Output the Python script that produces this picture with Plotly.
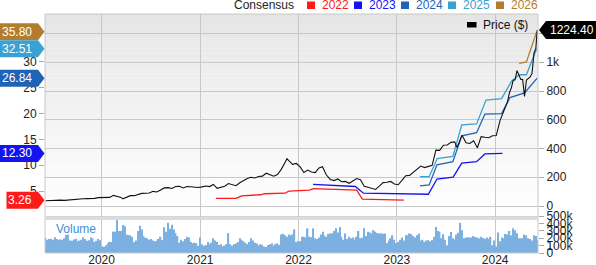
import plotly.graph_objects as go
import pandas as pd

# ---------------- data ----------------
price_dates = [
    "2019-06-07", "2019-06-21", "2019-07-05", "2019-07-19", "2019-08-02", "2019-08-16", "2019-08-30",
    "2019-09-13", "2019-09-27", "2019-10-11", "2019-10-25", "2019-11-08", "2019-11-22", "2019-12-06",
    "2019-12-20", "2020-01-03", "2020-01-17", "2020-01-31", "2020-02-14", "2020-02-28", "2020-03-13",
    "2020-03-20", "2020-04-03", "2020-04-17", "2020-05-01", "2020-05-15", "2020-05-29", "2020-06-12",
    "2020-06-26", "2020-07-10", "2020-07-24", "2020-08-07", "2020-08-21", "2020-09-04", "2020-09-18",
    "2020-10-02", "2020-10-16", "2020-10-30", "2020-11-13", "2020-11-27", "2020-12-11", "2020-12-24",
    "2021-01-08", "2021-01-22", "2021-02-05", "2021-02-19", "2021-03-05", "2021-03-19", "2021-04-02",
    "2021-04-16", "2021-04-30", "2021-05-14", "2021-05-28", "2021-06-11", "2021-06-25", "2021-07-09",
    "2021-07-23", "2021-08-06", "2021-08-20", "2021-09-03", "2021-09-17", "2021-10-01", "2021-10-15",
    "2021-10-29", "2021-11-12", "2021-11-19", "2021-11-26", "2021-12-10", "2021-12-24", "2022-01-07",
    "2022-01-21", "2022-02-04", "2022-02-18", "2022-03-04", "2022-03-18", "2022-03-31", "2022-04-14",
    "2022-04-29", "2022-05-13", "2022-05-27", "2022-06-10", "2022-06-24", "2022-07-08", "2022-07-22",
    "2022-08-05", "2022-08-19", "2022-09-02", "2022-09-16", "2022-09-30", "2022-10-14", "2022-10-28",
    "2022-11-11", "2022-11-25", "2022-12-09", "2022-12-23", "2023-01-06", "2023-01-20", "2023-02-03",
    "2023-02-17", "2023-03-03", "2023-03-17", "2023-03-31", "2023-04-14", "2023-04-28", "2023-05-12",
    "2023-05-26", "2023-06-09", "2023-06-23", "2023-07-07", "2023-07-21", "2023-08-04", "2023-08-11",
    "2023-08-18", "2023-08-31", "2023-09-15", "2023-09-29", "2023-10-13", "2023-10-27", "2023-11-10",
    "2023-11-24", "2023-12-08", "2023-12-22", "2024-01-05", "2024-01-19", "2024-02-02", "2024-02-16",
    "2024-02-23", "2024-03-01", "2024-03-08", "2024-03-15", "2024-03-22", "2024-04-05", "2024-04-12",
    "2024-04-19", "2024-04-26", "2024-05-03", "2024-05-10", "2024-05-17", "2024-05-24", "2024-05-31",
    "2024-06-05",
]
price_values = [
    36.5, 38.5, 40.5, 42.0, 41.0, 39.0, 42.0,
    45.0, 43.0, 47.0, 50.0, 51.5, 52.0, 53.0,
    58.5, 59.5, 62.0, 60.0, 74.0, 67.5, 60.0,
    50.0, 62.0, 72.0, 72.0, 80.0, 88.0, 89.0,
    90.0, 102.0, 98.0, 112.0, 126.0, 128.0, 122.0,
    136.0, 137.0, 126.0, 136.0, 134.0, 130.0, 129.0,
    133.0, 139.0, 135.0, 150.0, 123.0, 128.0, 138.0,
    156.0, 150.0, 141.0, 162.0, 178.0, 192.0, 200.0,
    195.0, 205.0, 208.0, 228.0, 220.0, 207.0, 219.0,
    255.0, 303.0, 329.0, 315.0, 290.0, 296.0, 272.0,
    233.0, 250.0, 236.0, 232.0, 265.0, 273.0, 217.0,
    185.0, 177.0, 188.0, 169.0, 171.0, 158.0, 173.0,
    191.0, 183.0, 137.0, 131.0, 121.0, 115.0, 138.0,
    163.0, 165.0, 171.0, 153.0, 148.0, 178.0, 211.0,
    213.0, 234.0, 257.0, 278.0, 267.0, 277.0, 283.0,
    389.0, 387.0, 423.0, 425.0, 443.0, 446.0, 408.0,
    432.0, 493.0, 440.0, 435.0, 454.0, 405.0, 483.0,
    478.0, 475.0, 489.0, 490.0, 594.0, 661.0, 726.0,
    788.0, 822.0, 875.0, 878.0, 942.0, 880.0, 881.0,
    762.0, 877.0, 887.0, 898.0, 924.0, 1064.0, 1096.0,
    1224.4,
]

eps_2022_dates = ["2021-03-01", "2021-05-14", "2021-06-04", "2021-08-13", "2021-08-27", "2021-11-12",
                  "2021-11-26", "2022-02-11", "2022-02-25", "2022-05-20", "2022-06-03", "2022-08-05",
                  "2022-08-26", "2022-11-11", "2022-11-25", "2023-01-27"]
eps_2022 = [3.6, 3.6, 4.1, 4.3, 4.5, 4.6, 5.0, 5.2, 5.5, 5.4, 5.3, 5.2, 3.45, 3.35, 3.3, 3.26]

eps_2023_dates = ["2022-02-24", "2022-05-20", "2022-07-31", "2022-08-30", "2023-04-28", "2023-05-30",
                  "2023-07-29", "2023-08-30", "2023-10-24", "2023-11-24", "2024-01-28"]
eps_2023 = [6.3, 6.1, 5.9, 4.6, 4.4, 7.35, 7.7, 10.4, 10.7, 12.2, 12.30]

eps_2024_dates = ["2023-03-28", "2023-05-01", "2023-05-30", "2023-07-28", "2023-08-30", "2023-10-24",
                  "2023-11-24", "2024-01-25", "2024-02-25", "2024-04-19", "2024-06-05"]
eps_2024 = [6.0, 6.2, 10.1, 10.7, 15.7, 16.3, 19.9, 20.0, 23.1, 24.0, 26.84]

eps_2025_dates = ["2023-03-28", "2023-05-01", "2023-05-31", "2023-07-28", "2023-08-30", "2023-10-24",
                  "2023-11-28", "2024-01-25", "2024-03-01", "2024-03-30", "2024-04-26", "2024-06-03"]
eps_2025 = [7.8, 7.8, 11.3, 11.7, 17.8, 18.0, 22.6, 22.9, 26.2, 27.5, 27.5, 32.51]

eps_2026_dates = ["2024-03-30", "2024-04-26", "2024-06-03"]
eps_2026 = [29.7, 30.0, 35.80]

# weekly volume (thousands)
vol_2019 = [210, 180, 190, 195, 180, 215, 190, 175, 185, 180, 200, 245, 250, 170, 165,
            185, 195, 160, 170, 180, 215, 190, 165, 175, 210, 200, 150, 165, 190, 175]
vol_2020 = [90, 85, 105, 130, 150, 150, 290, 290, 450, 300, 300, 380, 365, 250, 245, 240, 220,
            150, 170, 300, 370, 320, 230, 210, 200, 180, 190, 170, 160, 165, 190, 220, 175, 350,
            290, 410, 330, 385, 320, 270, 230, 140, 180, 160, 190, 220, 210, 150, 130, 140, 135, 100]
vol_2021 = [210, 120, 100, 110, 150, 120, 140, 200, 170, 150, 110, 120, 90, 100, 120, 270, 120,
            100, 120, 130, 150, 200, 180, 160, 140, 120, 150, 200, 170, 140, 130, 100, 120, 110,
            90, 80, 110, 120, 130, 100, 120, 130, 110, 250, 260, 240, 220, 250, 240, 250, 320, 150, 160]
vol_2022 = [160, 220, 220, 210, 335, 220, 215, 335, 200, 190, 210, 250, 290, 240, 220, 260, 265,
            270, 300, 335, 280, 355, 220, 180, 265, 190, 220, 200, 210, 185, 220, 300, 200, 210,
            335, 230, 290, 280, 265, 310, 290, 270, 265, 270, 260, 265, 137, 170, 200, 240, 180, 137]
vol_2023 = [150, 180, 210, 170, 240, 240, 265, 260, 230, 210, 240, 265, 165, 180, 150, 170, 175,
            160, 175, 220, 355, 300, 290, 200, 255, 180, 105, 230, 285, 200, 185, 250, 275, 410,
            310, 200, 210, 215, 210, 210, 230, 215, 210, 200, 220, 205, 195, 210, 190, 220, 105, 170]
vol_2024 = [90, 280, 160, 210, 200, 260, 250, 300, 240, 335, 310, 270, 200, 200, 200, 250, 240,
            200, 190, 170, 240, 230, 180]

year_ticks = ["2020-01-01", "2021-01-01", "2022-01-01", "2023-01-01", "2024-01-01"]
year_labels = ["2020", "2021", "2022", "2023", "2024"]
eps_ticks = [5, 10, 15, 20, 25, 30]
price_ticks = [0, 200, 400, 600, 800, 1000, 1200]
price_tick_labels = ["0", "200", "400", "600", "800", "1k", ""]
vol_ticks = [0, 100000, 200000, 300000, 400000, 500000]
vol_tick_labels = ["0", "100k", "200k", "300k", "400k", "500k"]

legend_years = ["2022", "2023", "2024", "2025", "2026"]
colors = {"2022": "#ff1a1a", "2023": "#1414f0", "2024": "#1f63b6", "2025": "#3aa1d3", "2026": "#b27d2f"}

# ---------------- layout geometry ----------------
W, H = 596, 265
ML, MR, MT, MB = 45, 58, 14, 12
PW, PH = W - ML - MR, H - MT - MB
PRICE_TOP, PRICE_BOT = 14, 217
VOL_TOP, VOL_BOT = 216, 253

def pxx(px):
    return (px - ML) / PW

def pxy(py):
    return (H - MB - py) / PH

EPS_RANGE = [0, 39.25]
PRICE_RANGE = [-76.5, 1336]
VOL_RANGE = [0, 503000]

def eps_py(v):
    return PRICE_TOP + (EPS_RANGE[1] - v) / (EPS_RANGE[1] - EPS_RANGE[0]) * (PRICE_BOT - PRICE_TOP)

def price_py(v):
    return PRICE_TOP + (PRICE_RANGE[1] - v) / (PRICE_RANGE[1] - PRICE_RANGE[0]) * (PRICE_BOT - PRICE_TOP)

FONT = "Arial, 'Liberation Sans', sans-serif"

fig = go.Figure()

# volume
volume = [v * 1000 for v in (vol_2019 + vol_2020 + vol_2021 + vol_2022 + vol_2023 + vol_2024)]
vol_dates = pd.date_range("2019-06-07", periods=len(volume), freq="W-FRI")
fig.add_trace(go.Bar(x=vol_dates, y=volume, yaxis="y3", marker=dict(color="#7cb0e1", line=dict(width=0)),
                     showlegend=False, hoverinfo="skip"))

# EPS consensus lines
for yr, d, v in [("2022", eps_2022_dates, eps_2022), ("2023", eps_2023_dates, eps_2023),
                 ("2024", eps_2024_dates, eps_2024), ("2025", eps_2025_dates, eps_2025),
                 ("2026", eps_2026_dates, eps_2026)]:
    fig.add_trace(go.Scatter(x=pd.to_datetime(d), y=v, mode="lines", yaxis="y",
                             line=dict(color=colors[yr], width=1.3), showlegend=False))

# price
fig.add_trace(go.Scatter(x=pd.to_datetime(price_dates), y=price_values, mode="lines", yaxis="y2",
                         line=dict(color="#111111", width=1.1), showlegend=False))

shapes = []
# gradient background of price panel
nb = 41
for i in range(nb):
    y0 = PRICE_TOP + (PRICE_BOT - PRICE_TOP) * i / nb
    y1 = PRICE_TOP + (PRICE_BOT - PRICE_TOP) * (i + 1) / nb
    t = (i + 0.5) / nb
    g = int(round(228 + (255 - 228) * (t ** 0.85)))
    shapes.append(dict(type="rect", xref="paper", yref="paper", x0=0, x1=1, y0=pxy(y1), y1=pxy(y0),
                       fillcolor=f"rgb({g},{g},{g})", line=dict(width=0), layer="below"))
# panel borders
shapes.append(dict(type="rect", xref="paper", yref="paper", x0=0, x1=1, y0=pxy(PRICE_BOT), y1=1,
                   line=dict(color="#c8c8c8", width=1), layer="above"))
shapes.append(dict(type="rect", xref="paper", yref="paper", x0=0, x1=1, y0=0, y1=pxy(217),
                   line=dict(color="#c8c8c8", width=1), layer="above"))
# separator band
shapes.append(dict(type="rect", xref="paper", yref="paper", x0=0, x1=1, y0=pxy(220), y1=pxy(217),
                   fillcolor="#dcdcdc", line=dict(width=0), layer="above"))

annotations = []
# left EPS badges
for yr, vals in [("2026", eps_2026), ("2025", eps_2025), ("2024", eps_2024), ("2023", eps_2023), ("2022", eps_2022)]:
    last = vals[-1]
    txt = f"{last:.2f}"
    cy = eps_py(last)
    left = -2 if len(txt) >= 5 else 6.5
    rr, tip, hh = 38, 44.5, 8.5
    path = (f"M {pxx(left)},{pxy(cy - hh)} L {pxx(rr)},{pxy(cy - hh)} L {pxx(tip)},{pxy(cy)} "
            f"L {pxx(rr)},{pxy(cy + hh)} L {pxx(left)},{pxy(cy + hh)} Z")
    shapes.append(dict(type="path", xref="paper", yref="paper", path=path, fillcolor=colors[yr],
                       line=dict(width=0), layer="above"))
    annotations.append(dict(xref="paper", yref="paper", x=pxx(34), y=pxy(cy), text=txt, showarrow=False,
                            xanchor="right", yanchor="middle", font=dict(color="white", size=12, family=FONT)))

# right price badge
last_p = price_values[-1]
cy = price_py(last_p)
path = (f"M {pxx(539)},{pxy(cy)} L {pxx(546)},{pxy(cy - 9)} L {pxx(600)},{pxy(cy - 9)} "
        f"L {pxx(600)},{pxy(cy + 9)} L {pxx(546)},{pxy(cy + 9)} Z")
shapes.append(dict(type="path", xref="paper", yref="paper", path=path, fillcolor="#000000",
                   line=dict(width=0), layer="above"))
annotations.append(dict(xref="paper", yref="paper", x=pxx(548), y=pxy(cy), text=f"{last_p:.2f}",
                        showarrow=False, xanchor="left", yanchor="middle",
                        font=dict(color="white", size=12, family=FONT)))

# top legend
annotations.append(dict(xref="paper", yref="paper", x=pxx(296), y=pxy(5.5), text="Consensus", showarrow=False,
                        xanchor="right", yanchor="middle", font=dict(color="#222222", size=12, family=FONT)))
leg_x = [307, 354, 401, 448, 496]
for yr, lx in zip(legend_years, leg_x):
    shapes.append(dict(type="rect", xref="paper", yref="paper", x0=pxx(lx), x1=pxx(lx + 8),
                       y0=pxy(9), y1=pxy(1.5), fillcolor=colors[yr], line=dict(width=0)))
    annotations.append(dict(xref="paper", yref="paper", x=pxx(lx + 13), y=pxy(5.5), text=yr, showarrow=False,
                            xanchor="left", yanchor="middle", font=dict(color=colors[yr], size=12, family=FONT)))

# price legend inside plot
shapes.append(dict(type="rect", xref="paper", yref="paper", x0=pxx(467), x1=pxx(476.5),
                   y0=pxy(27.5), y1=pxy(22), fillcolor="#000000", line=dict(width=0), layer="above"))
annotations.append(dict(xref="paper", yref="paper", x=pxx(481), y=pxy(25), text="Price ($)", showarrow=False,
                        xanchor="left", yanchor="middle", font=dict(color="#111111", size=12, family=FONT)))

# volume label
annotations.append(dict(xref="paper", yref="paper", x=pxx(54), y=pxy(229), text="Volume", showarrow=False,
                        xanchor="left", yanchor="middle", font=dict(color="#3f8ed6", size=12, family=FONT)))

fig.update_layout(
    width=W, height=H,
    margin=dict(l=ML, r=MR, t=MT, b=MB, pad=0),
    paper_bgcolor="white", plot_bgcolor="rgba(0,0,0,0)",
    template="none",
    font=dict(family=FONT, size=12, color="#222222"),
    showlegend=False,
    bargap=0.25,
    xaxis=dict(type="date", range=["2019-06-05", "2024-06-08"], domain=[0, 1], anchor="y3",
               tickvals=year_ticks, ticktext=year_labels, showgrid=True, gridcolor="#c8c8c8", gridwidth=1,
               ticks="", showline=False, zeroline=False, tickfont=dict(size=12, color="#222222"),
               ticklabelstandoff=-2, automargin=False),
    yaxis=dict(domain=[pxy(PRICE_BOT), 1], range=EPS_RANGE, anchor="x", side="left",
               tickvals=eps_ticks, showgrid=False, zeroline=False, ticks="outside", ticklen=5,
               tickcolor="#aaaaaa", showline=False, tickfont=dict(size=12, color="#222222"), automargin=False),
    yaxis2=dict(domain=[pxy(PRICE_BOT), 1], range=PRICE_RANGE, overlaying="y", anchor="x", side="right",
                tickvals=price_ticks, ticktext=price_tick_labels, showgrid=True, gridcolor="#c8c8c8",
                zeroline=False, ticks="outside", ticklen=5, tickcolor="#aaaaaa", showline=False,
                tickfont=dict(size=12, color="#222222"), automargin=False),
    yaxis3=dict(domain=[0, pxy(VOL_TOP)], range=VOL_RANGE, anchor="x", side="right",
                tickvals=vol_ticks, ticktext=vol_tick_labels, showgrid=False, zeroline=False,
                ticks="outside", ticklen=5, tickcolor="#aaaaaa", showline=False,
                tickfont=dict(size=12, color="#222222"), automargin=False),
    shapes=shapes,
    annotations=annotations,
)

fig.write_html("out.html")
